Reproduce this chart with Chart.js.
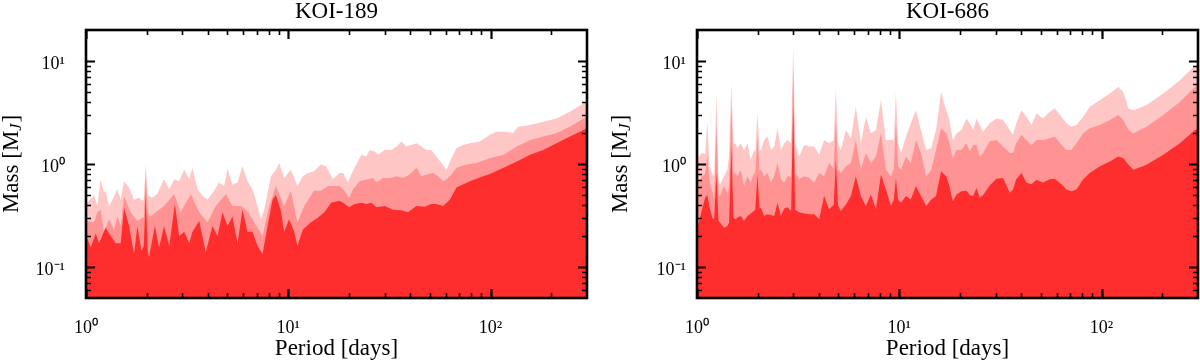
<!DOCTYPE html>
<html>
<head>
<meta charset="utf-8">
<script src="https://cdn.jsdelivr.net/npm/chart.js@4.4.1/dist/chart.umd.min.js"></script>
<style>
html,body{margin:0;padding:0;background:#fff;}
#wrap{position:relative;width:1200px;height:362px;overflow:hidden;}
.panel{position:absolute;top:0;width:600px;height:362px;}
canvas{display:block;}
</style>
</head>
<body>
<div id="wrap">
  <div class="panel" style="left:0"><canvas id="c1" width="600" height="362"></canvas></div>
  <div class="panel" style="left:600px"><canvas id="c2" width="600" height="362"></canvas></div>
</div>
<script>
// ---------- tick values and labels ----------
const xMajorTicks = [1, 10, 100];
const xMinorTicks = [2, 3, 4, 5, 6, 7, 8, 9, 20, 30, 40, 50, 60, 70, 80, 90, 200];
const xTickLabels = ['10\u2070', '10\u00B9', '10\u00B2'];
const yMajorTicks = [0.1, 1, 10];
const yMinorTicks = [0.06, 0.07, 0.08, 0.09, 0.2, 0.3, 0.4, 0.5, 0.6, 0.7, 0.8, 0.9, 2, 3, 4, 5, 6, 7, 8, 9];
const yTickLabels = ['10\u207B\u00B9', '10\u2070', '10\u00B9'];
const panelTitles = ['KOI-189', 'KOI-686'];
const xTitle = 'Period [days]';
const yTitleParts = ['Mass [M', 'J', ']'];

// ---------- KOI-189 ----------
const koi189LightPeriod = [1.0,1.015,1.096,1.138,1.18,1.228,1.25,1.30,1.35,1.429,1.485,1.542,1.633,1.728,1.83,1.90,1.93,1.974,2.02,2.05,2.13,2.25,2.43,2.58,2.73,2.89,3.06,3.24,3.36,3.56,3.77,3.99,4.30,4.55,4.82,5.01,5.30,5.61,5.94,6.29,6.66,7.05,7.33,7.61,8.21,8.69,9.02,9.55,10.3,11.1,11.8,12.5,13.4,14.5,15.4,16.6,17.9,18.7,19.7,20.5,21.7,23.0,24.3,25.3,26.8,27.8,30.0,32.4,34.3,36.3,38.4,40.6,43.0,45.5,48.2,51.0,54.0,57.2,60.6,64.1,67.9,73.3,79.0,88.6,99.3,107,120,129,137,157,182,212,247,288,300];
const koi189LightMass = [0.45,0.42,0.50,0.39,0.70,0.53,0.55,0.39,0.45,0.57,0.45,0.68,0.59,0.45,0.47,0.44,0.45,0.99,0.50,0.49,0.47,0.51,0.71,0.57,0.71,0.68,0.88,0.71,0.92,0.57,0.49,0.45,0.55,0.66,0.61,0.90,0.63,0.66,0.95,0.68,0.57,0.39,0.29,0.36,0.76,0.88,1.02,0.73,0.88,0.61,0.76,0.82,0.85,0.99,0.95,0.71,0.82,0.82,0.66,0.79,0.99,1.23,1.18,1.37,1.32,1.23,1.37,1.37,1.48,1.65,1.48,1.53,1.59,1.48,1.37,1.37,1.18,1.02,0.88,1.14,1.43,1.53,1.59,1.65,1.92,2.06,2.06,1.99,2.30,2.39,2.57,2.77,3.21,3.87,3.95];

const koi189MidPeriod = [1.0,1.015,1.096,1.138,1.18,1.228,1.30,1.376,1.429,1.485,1.542,1.66,1.795,1.90,1.93,1.974,2.02,2.09,2.25,2.43,2.73,2.94,3.30,3.63,3.99,4.38,4.92,5.30,5.83,6.29,6.79,7.46,8.05,8.69,9.55,10.3,11.1,12.0,13.4,14.5,15.7,17.9,18.7,20.0,20.9,22.6,24.8,26.3,27.3,29.4,31.7,34.3,37.0,39.9,43.0,45.5,48.2,52.0,55.1,58.3,60.6,64.1,67.9,76.1,85.3,99.3,116,135,157,182,212,247,288,300];
const koi189MidMass = [0.28,0.28,0.27,0.34,0.36,0.22,0.29,0.23,0.31,0.25,0.49,0.34,0.28,0.30,0.30,0.76,0.33,0.31,0.35,0.39,0.51,0.34,0.51,0.34,0.27,0.39,0.51,0.39,0.39,0.35,0.27,0.20,0.39,0.61,0.39,0.55,0.27,0.39,0.55,0.55,0.61,0.61,0.57,0.47,0.57,0.68,0.71,0.73,0.66,0.73,0.73,0.76,0.73,0.79,0.92,0.76,0.79,0.82,0.76,0.68,0.71,0.79,0.92,0.99,1.02,1.14,1.23,1.48,1.71,1.85,1.99,2.30,2.77,2.88];

const koi189DarkPeriod = [1.0,1.015,1.055,1.117,1.16,1.25,1.325,1.403,1.485,1.542,1.633,1.728,1.795,1.88,1.93,1.974,2.02,2.05,2.19,2.30,2.43,2.58,2.75,2.89,3.06,3.24,3.36,3.63,3.91,4.22,4.47,4.73,5.01,5.30,5.61,5.94,6.29,6.66,7.05,7.46,7.90,8.36,8.69,9.20,9.55,10.1,10.7,11.1,11.8,12.9,14.0,15.1,16.3,17.9,18.7,20.0,21.3,23.0,24.3,25.8,27.3,30.0,33.0,36.3,39.1,43.0,47.3,51.0,54.0,58.3,62.9,67.9,79.0,92.0,99.3,116,135,157,182,212,247,288,300];
const koi189DarkMass = [0.16,0.19,0.155,0.21,0.17,0.24,0.20,0.17,0.17,0.38,0.25,0.134,0.25,0.144,0.16,0.51,0.14,0.124,0.25,0.155,0.25,0.16,0.41,0.20,0.22,0.17,0.22,0.28,0.14,0.25,0.20,0.34,0.25,0.31,0.17,0.36,0.22,0.22,0.16,0.134,0.25,0.45,0.50,0.35,0.22,0.29,0.22,0.16,0.23,0.27,0.30,0.34,0.42,0.44,0.42,0.38,0.41,0.42,0.41,0.42,0.38,0.39,0.36,0.355,0.34,0.39,0.385,0.41,0.41,0.39,0.45,0.59,0.68,0.76,0.80,0.92,1.06,1.23,1.37,1.59,1.85,2.14,2.22];

// ---------- KOI-686 ----------
const koi686Period = [1.0,1.02,1.06,1.097,1.125,1.153,1.19,1.216,1.247,1.278,1.30,1.36,1.413,1.441,1.478,1.515,1.55,1.584,1.645,1.709,1.775,1.844,1.915,1.94,1.99,2.04,2.07,2.15,2.23,2.32,2.41,2.50,2.60,2.70,2.80,2.92,2.99,3.06,3.12,3.20,3.39,3.59,3.80,4.02,4.25,4.50,4.74,4.86,4.98,5.14,5.45,5.77,6.10,6.46,6.84,7.24,7.67,8.12,8.59,9.10,9.40,9.63,9.87,10.2,10.8,11.4,12.1,12.8,13.6,14.4,15.2,16.1,16.6,17.1,17.7,18.4,19.2,20.3,21.5,22.3,23.2,24.1,25.0,26.0,28.0,30.2,32.6,35.2,36.5,37.9,40.2,42.5,45.0,47.7,51.4,55.5,58.7,63.4,67.1,71.0,75.2,81.2,87.5,98.1,110,121,128,136,144,167,202,244,290,300];
const koi686LightMass = [1.10,1.18,1.28,1.25,2.57,0.95,0.8,0.76,4.83,0.7,0.63,0.76,0.88,1.2,6.0,1.55,1.59,1.43,1.59,1.37,1.59,1.10,1.37,1.3,3.10,1.35,1.37,1.71,1.85,1.37,1.48,2.22,1.37,1.59,1.71,1.6,14.1,1.6,1.4,1.18,1.53,1.48,1.48,1.23,1.71,1.59,1.7,5.4,1.6,1.37,2.14,1.78,3.59,1.59,2.88,1.99,2.14,4.16,1.71,1.71,1.7,5.0,1.6,1.28,1.85,2.48,3.33,2.14,1.37,1.43,2.14,5.0,4.0,3.33,2.67,1.71,1.99,2.14,2.77,2.48,2.14,2.77,2.39,2.06,2.48,2.77,2.67,2.14,1.92,2.48,3.33,2.88,2.39,3.10,2.77,3.21,3.46,2.88,2.48,2.30,2.39,2.88,3.59,4.16,4.83,5.6,5.0,3.46,3.33,3.73,4.83,6.49,9.05,9.4];
const koi686MidMass = [0.66,0.68,0.76,0.8,1.23,0.66,0.55,0.453,2.39,0.5,0.488,0.61,0.526,0.6,3.73,0.8,0.82,0.76,0.88,0.61,0.76,0.66,0.82,0.8,1.85,0.85,0.88,0.76,0.82,0.66,0.76,1.02,0.71,0.66,0.76,0.75,8.4,0.8,0.78,0.71,0.76,0.73,0.66,0.82,0.76,1.02,0.9,2.88,0.9,0.82,0.95,1.02,1.71,0.88,1.28,1.02,1.18,1.99,0.88,0.76,0.9,2.57,0.95,0.88,1.18,1.02,1.71,1.28,0.76,0.88,1.37,2.22,2.1,1.99,1.59,1.14,1.37,1.37,1.59,1.32,1.53,1.53,1.18,1.28,1.65,1.71,1.48,1.28,1.28,1.59,1.92,1.71,1.53,1.71,1.71,1.78,1.85,1.53,1.37,1.37,1.59,1.99,2.22,2.39,2.67,2.99,2.67,2.14,1.99,2.30,2.99,4.01,5.6,5.81];
const koi686DarkMass = [0.25,0.27,0.363,0.47,0.5,0.38,0.3,0.29,0.82,0.28,0.27,0.24,0.25,0.27,1.48,0.3,0.29,0.3,0.313,0.28,0.313,0.33,0.35,0.36,0.79,0.37,0.376,0.313,0.325,0.32,0.313,0.42,0.313,0.37,0.38,0.35,3.59,0.36,0.35,0.34,0.33,0.325,0.325,0.29,0.488,0.363,0.4,1.10,0.4,0.35,0.405,0.488,0.76,0.488,0.39,0.506,0.363,0.79,0.565,0.39,0.45,0.73,0.45,0.42,0.488,0.453,0.61,0.488,0.39,0.453,0.488,0.85,0.8,0.76,0.61,0.436,0.506,0.545,0.55,0.5,0.49,0.586,0.47,0.5,0.62,0.72,0.73,0.526,0.565,0.71,0.82,0.66,0.635,0.70,0.66,0.71,0.72,0.635,0.565,0.545,0.565,0.71,0.82,0.95,1.06,1.18,1.14,0.985,0.88,0.985,1.23,1.59,2.14,2.22];

// ---------- styling ----------
const lightColor = '#FFC6C6';
const midColor = '#FF9393';
const darkColor = '#FF2E2E';
const SERIF = "'Liberation Serif', 'Times New Roman', serif";

function pts(periods, masses) {
  return periods.map((p, i) => ({x: p, y: masses[i]}));
}

const framePlugin = {
  id: 'frame',
  afterDatasetsDraw(chart) {
    const {ctx, chartArea: a, scales} = chart;
    const xs = scales.x, ys = scales.y;
    ctx.save();
    ctx.strokeStyle = '#000';
    ctx.lineCap = 'butt';
    const drawX = (vals, len, lw) => {
      ctx.lineWidth = lw;
      vals.forEach(v => {
        const px = Math.round(xs.getPixelForValue(v)) + 0.5;
        ctx.beginPath();
        ctx.moveTo(px, a.bottom); ctx.lineTo(px, a.bottom - len);
        ctx.moveTo(px, a.top); ctx.lineTo(px, a.top + len);
        ctx.stroke();
      });
    };
    const drawY = (vals, len, lw) => {
      ctx.lineWidth = lw;
      vals.forEach(v => {
        const py = Math.round(ys.getPixelForValue(v)) + 0.5;
        ctx.beginPath();
        ctx.moveTo(a.left, py); ctx.lineTo(a.left + len, py);
        ctx.moveTo(a.right, py); ctx.lineTo(a.right - len, py);
        ctx.stroke();
      });
    };
    drawX(xMinorTicks, 5, 1.6);
    drawX(xMajorTicks, 9, 2.2);
    drawY(yMinorTicks, 5, 1.6);
    drawY(yMajorTicks, 9, 2.2);
    ctx.lineWidth = 2.6;
    ctx.strokeRect(a.left, a.top, a.right - a.left, a.bottom - a.top);
    ctx.restore();
  }
};

const yTitlePlugin = {
  id: 'ytitle',
  afterDraw(chart, args, opts) {
    const ctx = chart.ctx, a = chart.chartArea;
    const mainFont = '23px ' + SERIF, subFont = 'italic 16px ' + SERIF;
    ctx.save();
    ctx.translate(opts.x, (a.top + a.bottom) / 2);
    ctx.rotate(-Math.PI / 2);
    ctx.fillStyle = '#000';
    ctx.textBaseline = 'middle';
    ctx.textAlign = 'left';
    ctx.font = mainFont;
    const w1 = ctx.measureText(yTitleParts[0]).width;
    const w3 = ctx.measureText(yTitleParts[2]).width;
    ctx.font = subFont;
    const w2 = ctx.measureText(yTitleParts[1]).width;
    const x0 = -(w1 + w2 + w3 + 1) / 2;
    ctx.font = mainFont;
    ctx.fillText(yTitleParts[0], x0, 0);
    ctx.font = subFont;
    ctx.fillText(yTitleParts[1], x0 + w1, 5);
    ctx.font = mainFont;
    ctx.fillText(yTitleParts[2], x0 + w1 + w2 + 1, 0);
    ctx.restore();
  }
};

function makeChart(canvasId, title, bands, geom) {
  return new Chart(document.getElementById(canvasId), {
    type: 'line',
    data: {
      datasets: bands.map(b => ({
        data: b.data,
        backgroundColor: b.color,
        borderWidth: 0,
        borderColor: 'rgba(0,0,0,0)',
        pointRadius: 0,
        tension: 0,
        fill: 'start',
        order: b.order
      }))
    },
    options: {
      responsive: false,
      animation: false,
      devicePixelRatio: 1,
      events: [],
      layout: {padding: {left: 0, right: geom.rightPad, top: 0, bottom: 0}},
      plugins: {
        legend: {display: false},
        tooltip: {enabled: false},
        title: {
          display: true, text: title, color: '#000', fullSize: false,
          font: {family: SERIF, size: 23, weight: 'normal', lineHeight: 1.0},
          padding: {top: 0, bottom: 7}
        },
        ytitle: {x: geom.yTitleX}
      },
      scales: {
        x: {
          type: 'logarithmic', position: 'bottom', min: 1, max: 300,
          grid: {display: false}, border: {display: false},
          afterBuildTicks: s => { s.ticks = xMajorTicks.map(v => ({value: v})); },
          afterFit: s => { s.height = 64; },
          ticks: {
            autoSkip: false, maxRotation: 0, minRotation: 0, color: '#000',
            padding: geom.xLabelPad,
            font: {family: SERIF, size: 18},
            callback: (v, i) => xTickLabels[i]
          },
          title: {
            display: true, text: xTitle, color: '#000',
            font: {family: SERIF, size: 23, lineHeight: 1.0},
            padding: {top: 0, bottom: 2}
          }
        },
        y: {
          type: 'logarithmic', position: 'left', min: 0.05, max: 20,
          grid: {display: false}, border: {display: false},
          afterBuildTicks: s => { s.ticks = yMajorTicks.map(v => ({value: v})); },
          afterFit: s => { s.width = geom.yAxisWidth; },
          ticks: {
            autoSkip: false, color: '#000', padding: geom.yLabelPad,
            labelOffset: 3,
            font: {family: SERIF, size: 18},
            callback: (v, i) => yTickLabels[i]
          },
          title: {display: false}
        }
      }
    },
    plugins: [framePlugin, yTitlePlugin]
  });
}

makeChart('c1', panelTitles[0], [
  {data: pts(koi189DarkPeriod, koi189DarkMass), color: darkColor, order: 0},
  {data: pts(koi189MidPeriod, koi189MidMass), color: midColor, order: 1},
  {data: pts(koi189LightPeriod, koi189LightMass), color: lightColor, order: 2}
], {yAxisWidth: 86, rightPad: 13, yLabelPad: 13, xLabelPad: 11, yTitleX: 12});

makeChart('c2', panelTitles[1], [
  {data: pts(koi686Period, koi686DarkMass), color: darkColor, order: 0},
  {data: pts(koi686Period, koi686MidMass), color: midColor, order: 1},
  {data: pts(koi686Period, koi686LightMass), color: lightColor, order: 2}
], {yAxisWidth: 97, rightPad: 2, yLabelPad: 3, xLabelPad: 11, yTitleX: 21});
</script>
</body>
</html>
